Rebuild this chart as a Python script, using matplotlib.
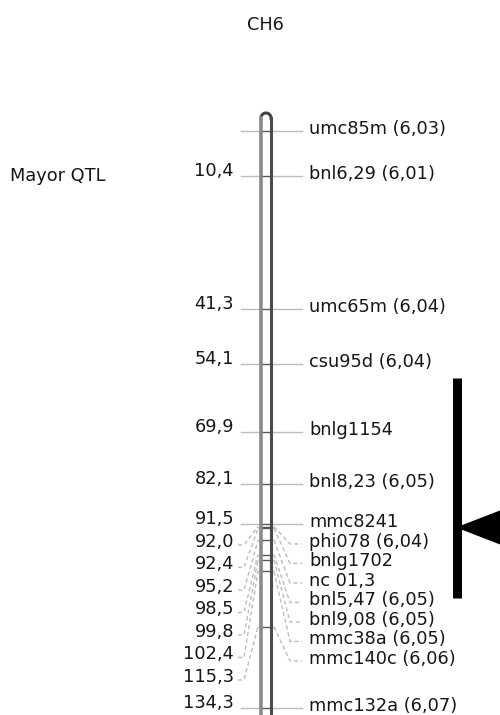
import numpy as np
import matplotlib
matplotlib.use("Agg")
import matplotlib.pyplot as plt
from matplotlib.patches import Polygon

# ---- data (cM positions on chromosome 6) ----
marker_names = ["umc85m (6,03)", "bnl6,29 (6,01)", "umc65m (6,04)", "csu95d (6,04)",
                "bnlg1154", "bnl8,23 (6,05)", "mmc8241", "phi078 (6,04)", "bnlg1702",
                "nc 01,3", "bnl5,47 (6,05)", "bnl9,08 (6,05)", "mmc38a (6,05)",
                "mmc140c (6,06)", "mmc132a (6,07)"]
marker_cm = [0.0, 10.4, 41.3, 54.1, 69.9, 82.1, 91.5, 92.0, 92.4,
             95.2, 98.5, 99.8, 102.4, 115.3, 134.3]
pos_labels = ["", "10,4", "41,3", "54,1", "69,9", "82,1", "91,5", "92,0", "92,4",
              "95,2", "98,5", "99,8", "102,4", "115,3", "134,3"]
qtl_start, qtl_end, qtl_peak = 57.4, 108.5, 92.2

# ---- layout ----
W, H = 500, 715
PX_PER_CM = 4.3
TOP_PX = 131
y_top = -TOP_PX / PX_PER_CM
y_bot = (H - TOP_PX) / PX_PER_CM


def px(v):
    return v / PX_PER_CM


def spread(vals, gap, offset=0.0):
    # push labels down so they don't overlap
    out = []
    for v in vals:
        v = v + offset
        if out and v < out[-1] + gap:
            v = out[-1] + gap
        out.append(v)
    return out


plt.rcParams['font.family'] = ['DejaVu Sans']
fig = plt.figure(figsize=(W / 100, H / 100), dpi=100)
ax = fig.add_axes([0, 0, 1, 1])
ax.set_xlim(0, W)
ax.set_ylim(y_bot, y_top)
ax.axis("off")

txt_color = "#161616"
fs = 12.8
chr_l, chr_r = 261, 271

right_y = spread(marker_cm, px(19.5), offset=-px(2))
left_y = spread(marker_cm, px(22.5), offset=-px(5))

line_kw = dict(color="#bdbdbd", lw=1.0, zorder=1)
for i, (name, m) in enumerate(zip(marker_names, marker_cm)):
    ry = right_y[i]
    ly = left_y[i]
    if abs(ry - m) < 1.0 and abs(ly - m) < 2.0:
        ax.plot([241, 302], [m, m], **line_kw)
    else:
        ax.plot([chr_r + 3, 290, 302], [m, ry + px(2), ry + px(2)], ls=(0, (3, 2)), **line_kw)
        if pos_labels[i]:
            ax.plot([238, 244, chr_l - 3], [ly + px(3), ly + px(3), m],
                    ls=(0, (3, 2)), **line_kw)
        ax.plot([chr_l - 3, chr_r + 3], [m, m], color="#c8c8c8", lw=1.0, zorder=1)
    # tick inside chromosome
    ax.plot([chr_l, chr_r], [m, m], color="#555555", lw=0.9, zorder=3)
    ax.text(309, ry, name, ha="left", va="center", fontsize=fs, color=txt_color)
    if pos_labels[i]:
        ax.text(234, ly, pos_labels[i], ha="right", va="center",
                fontsize=fs, color=txt_color)

# chromosome outline with rounded top
r = (chr_r - chr_l) / 2
cx = (chr_l + chr_r) / 2
cap_y = marker_cm[0] - px(13)
t = np.linspace(np.pi, 0, 30)
ax.plot(cx + r * np.cos(t), cap_y - px(r) * np.sin(t), color="#444444", lw=2.2, zorder=4)
ax.plot([chr_l, chr_l], [cap_y, y_bot + 5], color="#8a8a8a", lw=2.6, zorder=4)
ax.plot([chr_r, chr_r], [cap_y, y_bot + 5], color="#4a4a4a", lw=2.2, zorder=4)

# QTL bar with peak arrow
ax.plot([457, 457], [qtl_start, qtl_end], color="black", lw=6.5,
        solid_capstyle="butt", zorder=5)
tri = Polygon([[458, qtl_peak], [520, qtl_peak - px(24)], [520, qtl_peak + px(24)]],
              closed=True, color="black", zorder=5)
ax.add_patch(tri)

ax.text(10, marker_cm[1], "Mayor QTL", ha="left", va="center", fontsize=fs, color=txt_color)
ax.text(265, y_top + px(25), "CH6", ha="center", va="center", fontsize=fs, color=txt_color)

fig.savefig("out.png", dpi=100)
